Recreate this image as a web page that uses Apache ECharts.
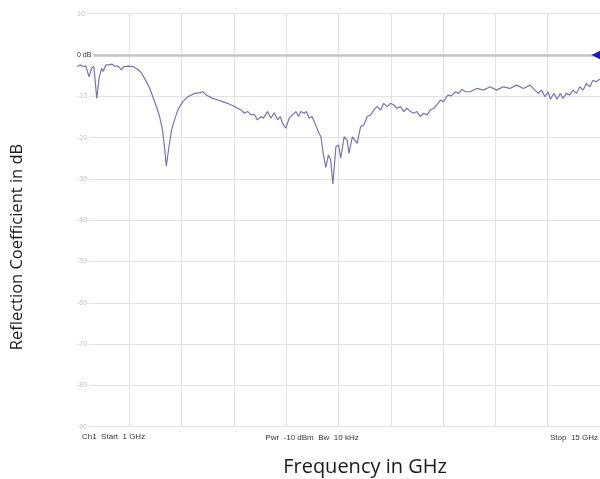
<!DOCTYPE html>
<html>
<head>
<meta charset="utf-8">
<script src="https://cdn.jsdelivr.net/npm/echarts@6/dist/echarts.min.js"></script>
<style>
html,body{margin:0;padding:0;background:#fff;}
#chart{width:600px;height:479px;}
</style>
</head>
<body>
<div id="chart"></div>
<script>
// Frequency points (GHz)
var freqGHz = [
 1.00,1.08,1.17,1.24,1.32,1.39,1.45,1.53,1.59,1.66,1.70,1.77,1.86,1.93,2.01,2.10,2.19,2.25,2.37,2.50,
 2.63,2.73,2.86,2.95,3.03,3.14,3.21,3.29,3.35,3.39,3.45,3.53,3.61,3.70,3.83,3.97,4.15,4.28,4.37,4.46,
 4.63,4.77,4.90,5.03,5.17,5.30,5.39,5.48,5.57,5.66,5.75,5.83,5.93,5.99,6.10,6.19,6.28,6.37,6.44,6.50,
 6.59,6.68,6.77,6.86,6.93,6.99,7.08,7.14,7.21,7.29,7.35,7.41,7.48,7.53,7.59,7.66,7.73,7.79,7.85,7.93,
 8.00,8.06,8.15,8.23,8.28,8.37,8.44,8.50,8.59,8.68,8.77,8.86,8.95,9.03,9.13,9.21,9.30,9.39,9.48,9.57,
 9.66,9.75,9.83,9.93,10.01,10.10,10.19,10.28,10.37,10.46,10.55,10.63,10.73,10.81,10.93,11.02,11.13,11.22,11.30,11.40,11.53,11.70,11.88,
 12.06,12.23,12.41,12.59,12.77,12.95,13.13,13.26,13.35,13.43,13.53,13.61,13.67,13.77,13.85,13.94,14.01,14.10,14.19,14.28,
 14.37,14.46,14.55,14.63,14.73,14.81,14.90,15.00
];
// Reflection coefficient (dB)
var s11dB = [
 -2.8,-2.4,-2.8,-2.7,-5.3,-3.2,-2.8,-10.5,-5.6,-3.2,-4.0,-2.4,-2.4,-2.2,-2.7,-2.7,-3.6,-2.8,-2.7,-2.8,
 -3.5,-4.4,-6.5,-8.1,-10.1,-12.9,-14.9,-18.2,-23.0,-26.9,-23.0,-18.2,-15.7,-13.3,-11.3,-10.1,-9.3,-9.1,-8.9,-9.7,
 -10.5,-10.9,-11.3,-11.7,-12.3,-12.9,-13.3,-14.1,-13.7,-14.5,-14.4,-15.7,-14.9,-15.3,-13.7,-15.3,-14.0,-15.7,-14.9,-16.5,
 -17.7,-15.3,-14.5,-13.7,-14.9,-13.7,-14.1,-13.7,-15.3,-14.9,-16.1,-17.4,-19.0,-19.8,-23.8,-27.2,-24.2,-25.4,-31.2,-22.2,
 -21.8,-25.0,-19.8,-20.6,-23.8,-19.8,-20.6,-21.4,-17.4,-16.9,-14.9,-14.5,-13.3,-12.5,-13.3,-11.7,-12.5,-11.7,-12.1,-12.9,
 -12.5,-13.7,-12.9,-13.7,-14.1,-13.7,-14.9,-14.1,-14.5,-13.3,-12.9,-12.1,-10.9,-11.3,-9.7,-9.9,-8.9,-9.3,-8.3,-8.9,-8.9,-8.1,-8.5,
 -7.7,-8.5,-7.7,-8.1,-7.3,-8.1,-7.3,-8.5,-9.3,-8.5,-10.1,-8.9,-10.7,-9.3,-10.7,-9.3,-10.5,-9.3,-9.7,-8.5,
 -9.3,-7.7,-8.5,-6.9,-7.7,-6.1,-6.5,-5.8
];
var yTicks = [10,0,-10,-20,-30,-40,-50,-60,-70,-80,-90];
var refLevel = 0;
var startGHz = 1, stopGHz = 15;
var footerTexts = ['Ch1  Start  1 GHz', 'Pwr  -10 dBm  Bw  10 kHz', 'Stop  15 GHz'];
var xTitle = 'Frequency in GHz';
var yTitle = 'Reflection Coefficient in dB';

var data = freqGHz.map(function (f, i) { return [f, s11dB[i]]; });
var yMin = yTicks[yTicks.length - 1], yMax = yTicks[0];

var chart = echarts.init(document.getElementById('chart'), null, {renderer: 'canvas'});
chart.setOption({
  animation: false,
  backgroundColor: '#ffffff',
  grid: {left: 77, right: -2, top: 13.7, bottom: 52.3, containLabel: false},
  xAxis: [{
    type: 'value', min: startGHz, max: stopGHz, show: false
  }, {
    type: 'value', min: 0, max: 10, interval: 1, position: 'bottom',
    axisLine: {show: false}, axisTick: {show: false}, axisLabel: {show: false},
    splitLine: {show: true, showMinLine: false, lineStyle: {color: '#e2e2e2', width: 1}}
  }],
  yAxis: [{
    type: 'value', min: yMin, max: yMax, interval: 10,
    axisLine: {show: false}, axisTick: {show: false}, axisLabel: {show: false},
    splitLine: {show: true, lineStyle: {color: '#e2e2e2', width: 1}}
  }, {
    type: 'value', min: yMin, max: yMax, interval: 10, position: 'left', z: 10,
    axisLine: {show: false}, axisTick: {show: false}, splitLine: {show: false},
    axisLabel: {
      inside: true, margin: 0, fontSize: 7, fontFamily: 'Liberation Sans',
      backgroundColor: '#fff', padding: [1, 2, 1, 0],
      color: function (v) { return Number(v) === refLevel ? '#333' : '#c4c4c4'; },
      formatter: function (v) { return v === refLevel ? '0 dB' : String(v); }
    }
  }],
  graphic: [
    {type: 'text', left: 82, top: 433, style: {text: footerTexts[0], font: '8px "Liberation Sans"', fill: '#333'}},
    {type: 'text', x: 312, y: 438, style: {text: footerTexts[1], font: '8px "Liberation Sans"', fill: '#333', textAlign: 'center', textVerticalAlign: 'middle'}},
    {type: 'text', x: 598, y: 438, style: {text: footerTexts[2], font: '8px "Liberation Sans"', fill: '#333', textAlign: 'right', textVerticalAlign: 'middle'}},
    {type: 'text', x: 365, y: 467, style: {text: xTitle, font: '20px "Open Sans"', fill: '#1a1a1a', textAlign: 'center', textVerticalAlign: 'middle'}},
    {type: 'text', x: 17, y: 247, rotation: Math.PI / 2, style: {text: yTitle, font: '16.5px "Open Sans"', fill: '#1a1a1a', textAlign: 'center', textVerticalAlign: 'middle'}}
  ],
  series: [{
    type: 'line', xAxisIndex: 0, yAxisIndex: 0, data: data,
    showSymbol: false, symbol: 'none', smooth: false, clip: false,
    lineStyle: {color: '#7676b4', width: 1.2},
    markLine: {
      silent: true, symbol: 'none', label: {show: false},
      lineStyle: {color: '#c4c4c4', width: 2.5, type: 'solid'},
      data: [{yAxis: refLevel}]
    },
    markPoint: {
      silent: true, symbol: 'triangle', symbolSize: [11, 11], symbolRotate: 90, symbolOffset: [-3, 0],
      itemStyle: {color: '#1616d6'}, label: {show: false},
      data: [{coord: [stopGHz, refLevel]}]
    },
    z: 3
  }]
});
</script>
</body>
</html>
